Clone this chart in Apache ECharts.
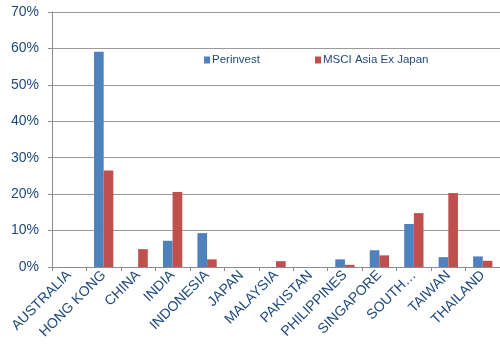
<!DOCTYPE html>
<html>
<head>
<meta charset="utf-8">
<script src="https://cdn.jsdelivr.net/npm/echarts@6/dist/echarts.min.js"></script>
<style>
html,body{margin:0;padding:0;background:#fff;}
#chart{width:500px;height:352px;}
</style>
</head>
<body>
<div id="chart"></div>
<script>
var countries = ['AUSTRALIA', 'HONG KONG', 'CHINA', 'INDIA', 'INDONESIA', 'JAPAN', 'MALAYSIA',
	'PAKISTAN', 'PHILIPPINES', 'SINGAPORE', 'SOUTH\u2026', 'TAIWAN', 'THAILAND'];
var perinvest = [0, 59.1, 0, 7.2, 9.3, 0, 0, 0, 2.1, 4.6, 11.8, 2.7, 2.9];
var msci = [0, 26.5, 4.9, 20.6, 2.1, 0, 1.6, 0, 0.6, 3.2, 14.8, 20.3, 1.7];
var yTicks = [0, 10, 20, 30, 40, 50, 60, 70];

var txt = '#1F497D';
var font = 'Liberation Sans, Arial, sans-serif';

var myChart = echarts.init(document.getElementById('chart'));
myChart.setOption({
	animation: false,
	textStyle: { fontFamily: font },
	legend: [
		{ data: ['Perinvest'], left: 199, top: 49, itemWidth: 6, itemHeight: 7, icon: 'rect',
			textStyle: { color: txt, fontSize: 11.5, fontFamily: font, padding: [0, 0, 0, -3] } },
		{ data: ['MSCI Asia Ex Japan'], left: 310, top: 49, itemWidth: 6, itemHeight: 7, icon: 'rect',
			textStyle: { color: txt, fontSize: 11.5, fontFamily: font, padding: [0, 0, 0, -3] } }
	],
	grid: { left: 52, right: -4, top: 12, bottom: 85 },
	xAxis: {
		type: 'category',
		data: countries,
		axisLine: { lineStyle: { color: '#8c8c8c', width: 1 } },
		axisTick: { show: true, alignWithLabel: false, length: 4, lineStyle: { color: '#8c8c8c' } },
		axisLabel: { rotate: 45, color: txt, fontSize: 14, fontFamily: font, margin: 6, interval: 0 }
	},
	yAxis: {
		type: 'value',
		min: yTicks[0],
		max: yTicks[yTicks.length - 1],
		interval: 10,
		axisLine: { show: true, lineStyle: { color: '#8c8c8c' } },
		axisTick: { show: true, length: 4, lineStyle: { color: '#8c8c8c' } },
		axisLabel: { color: txt, fontSize: 14, fontFamily: font, margin: 13, formatter: '{value}%' },
		splitLine: { lineStyle: { color: '#9a9a9a', width: 1 } }
	},
	series: [
		{ name: 'Perinvest', type: 'bar', data: perinvest, barWidth: '28%', barGap: '0%',
			itemStyle: { color: '#4F81BD' } },
		{ name: 'MSCI Asia Ex Japan', type: 'bar', data: msci, barWidth: '28%',
			itemStyle: { color: '#C0504D' } }
	]
});
</script>
</body>
</html>
